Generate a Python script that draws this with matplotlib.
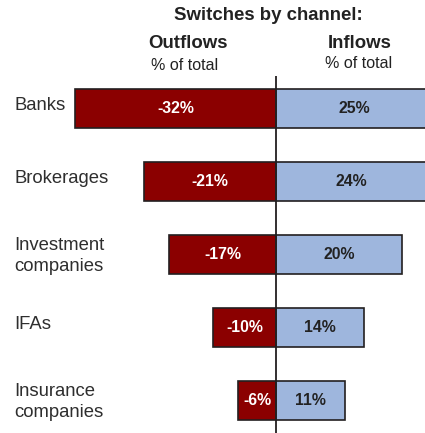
import matplotlib
matplotlib.use("Agg")
import matplotlib.pyplot as plt
from matplotlib.transforms import blended_transform_factory

plt.rcParams['font.family'] = ['Liberation Sans', 'DejaVu Sans']

# Switches by channel (% of total)
categories = ["Banks", "Brokerages", "Investment\ncompanies", "IFAs", "Insurance\ncompanies"]
outflows = [-32, -21, -17, -10, -6]
inflows = [25, 24, 20, 14, 11]

W, H = 425, 433
fig = plt.figure(figsize=(W / 100, H / 100), dpi=100)
ax = fig.add_axes([0, 0, 1, 1])

px_per_pct = 6.28
zero_px = 276
row_px = 73.0
first_row_px = 108.7

ax.set_xlim(-zero_px / px_per_pct, (W - zero_px) / px_per_pct)
ax.set_ylim((H - first_row_px) / row_px, -first_row_px / row_px)
ax.axis("off")

red = "#8B0000"
blue = "#9EB6DD"
edge = "#231F20"
dark = "#222222"
label_col = "#2e2e2e"
bar_h = 0.527

ypos = list(range(len(categories)))
ax.barh(ypos, outflows, height=bar_h, color=red, edgecolor=edge, linewidth=1.2)
ax.barh(ypos, inflows, height=bar_h, color=blue, edgecolor=edge, linewidth=1.2)

# centre divider
ax.plot([0, 0], [(76 - first_row_px) / row_px, (H - first_row_px) / row_px],
        color=edge, linewidth=1.3, solid_capstyle="butt", zorder=5)

for y, o, i in zip(ypos, outflows, inflows):
    ax.text(o / 2, y, f"{o}%", ha="center", va="center", color="white",
            fontsize=11.4, fontweight="bold")
    ax.text(i / 2, y, f"{i}%", ha="center", va="center", color=dark,
            fontsize=11.4, fontweight="bold")

tr = blended_transform_factory(fig.transFigure, ax.transData)
for y, c in zip(ypos, categories):
    dy = 0.02 if "\n" in c else -0.05
    ax.text(14 / W, y + dy, c, transform=tr, ha="left", va="center", color=label_col,
            fontsize=13.3, linespacing=1.3)

def ftext(x, y, s, **kw):
    fig.text(x / W, 1 - y / H, s, ha="center", va="center", color=dark, **kw)

ftext(268, 15, "Switches by channel:", fontsize=13.4, fontweight="bold")
ftext(187.7, 43, "Outflows", fontsize=13.4, fontweight="bold")
ftext(185, 65.7, "% of total", fontsize=11.5)
ftext(359.3, 43, "Inflows", fontsize=13.4, fontweight="bold")
ftext(359, 63.3, "% of total", fontsize=11.5)

fig.savefig("out.png", dpi=100)
